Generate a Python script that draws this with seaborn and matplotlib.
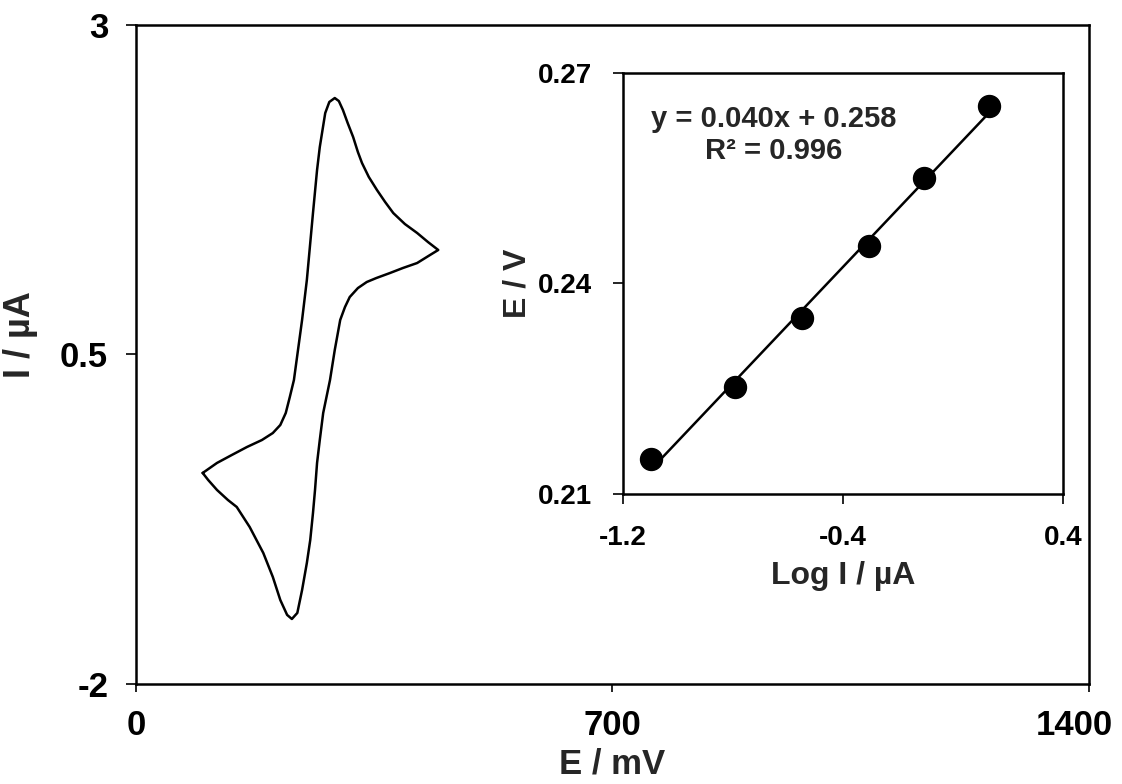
import matplotlib
matplotlib.use("Agg")
import matplotlib.pyplot as plt
from matplotlib.transforms import ScaledTranslation
import pandas as pd
import seaborn as sns

# cyclic voltammogram, one closed loop: anodic sweep then cathodic sweep
cv_potential = [98, 119, 141, 163, 185, 201, 212, 220, 226, 232, 238, 244, 251, 260, 266,
                270, 278, 284, 292, 298, 304, 311, 319, 326, 332, 342, 354, 366, 378, 395,
                413, 429, 444,
                432, 413, 392, 373, 353, 339, 326, 314, 307, 300, 292, 285, 275, 270, 266,
                263, 260, 256, 251, 244, 237, 229, 222, 212, 201, 187, 167, 148, 135, 119,
                106, 98]
cv_current = [-0.399, -0.323, -0.262, -0.202, -0.149, -0.096, -0.035, 0.056, 0.178, 0.306,
              0.534, 0.762, 1.065, 1.573, 1.900, 2.074, 2.332, 2.416, 2.446, 2.423, 2.355,
              2.256, 2.150, 2.036, 1.953, 1.847, 1.748, 1.657, 1.573, 1.490, 1.422, 1.353,
              1.293,
              1.255, 1.194, 1.156, 1.118, 1.080, 1.050, 1.004, 0.936, 0.860, 0.762, 0.534,
              0.306, 0.056, -0.149, -0.323, -0.528, -0.703, -0.907, -1.082, -1.287, -1.461,
              -1.507, -1.476, -1.363, -1.188, -1.006, -0.809, -0.657, -0.604, -0.528,
              -0.452, -0.399]

# inset: peak potential vs log of peak current
log_current = [-1.098, -0.793, -0.549, -0.305, -0.105, 0.131]
peak_potential = [0.215, 0.2253, 0.2351, 0.2453, 0.255, 0.2653]

main_xticks = [0, 700, 1400]
main_yticks = [-2, 0.5, 3]
main_yticklabels = ["-2", "0.5", "3"]
inset_xticks = [-1.2, -0.4, 0.4]
inset_yticks = [0.21, 0.24, 0.27]
fit_text = "y = 0.040x + 0.258\nR² = 0.996"

sns.set_style("ticks")
plt.rcParams.update({
    "font.family": ["Liberation Sans", "DejaVu Sans"],
    "font.weight": "bold", "axes.labelweight": "bold",
    "axes.linewidth": 1.8, "axes.edgecolor": "black",
    "xtick.color": "black", "ytick.color": "black",
})

cv = pd.DataFrame({"E": cv_potential, "I": cv_current})
fig = plt.figure(figsize=(11.22, 7.84), dpi=100)

ax = fig.add_axes([0.1212, 0.1276, 0.8494, 0.8405])
sns.lineplot(data=cv, x="E", y="I", sort=False, estimator=None, color="black", lw=1.8, ax=ax)
ax.set_xlim(0, 1400); ax.set_ylim(-2, 3)
ax.set_xticks(main_xticks); ax.set_xticklabels([str(t) for t in main_xticks])
ax.set_yticks(main_yticks); ax.set_yticklabels(main_yticklabels)
ax.tick_params(axis="y", length=7, width=1.2, pad=13, labelsize=25)
ax.tick_params(axis="x", length=6, width=1.2, pad=12, labelsize=25)
# last label pulled inward so it stays inside the figure, as in the original
last = ax.get_xticklabels()[-1]
last.set_transform(last.get_transform() + ScaledTranslation(-0.15, 0, fig.dpi_scale_trans))
ax.set_xlabel("E / mV", fontsize=25); ax.set_ylabel("I / µA", fontsize=26)
ax.xaxis.set_label_coords(0.5, -0.097)
ax.yaxis.set_label_coords(-0.103, 0.53)
for s in ax.spines.values():
    s.set_visible(True)

inset = fig.add_axes([0.5553, 0.3699, 0.3921, 0.5370])
sns.regplot(x=log_current, y=peak_potential, ci=None, ax=inset,
            scatter_kws=dict(s=250, color="black", zorder=3, alpha=1),
            line_kws=dict(color="black", lw=1.8))
inset.set_xlim(-1.2, 0.4); inset.set_ylim(0.21, 0.27)
inset.set_xticks(inset_xticks); inset.set_xticklabels([f"{t:.1f}" for t in inset_xticks])
inset.set_yticks(inset_yticks); inset.set_yticklabels([f"{t:.2f}" for t in inset_yticks])
inset.tick_params(length=7, width=1.2, pad=15, labelsize=20)
inset.set_xlabel("Log I / µA", fontsize=23); inset.set_ylabel("E / V", fontsize=23)
inset.xaxis.set_label_coords(0.5, -0.158)
inset.yaxis.set_label_coords(-0.205, 0.5)
inset.text(0.343, 0.925, fit_text, transform=inset.transAxes, ha="center", va="top",
           fontsize=21, linespacing=1.2)
for s in inset.spines.values():
    s.set_visible(True)

fig.savefig("out.png", dpi=100)
